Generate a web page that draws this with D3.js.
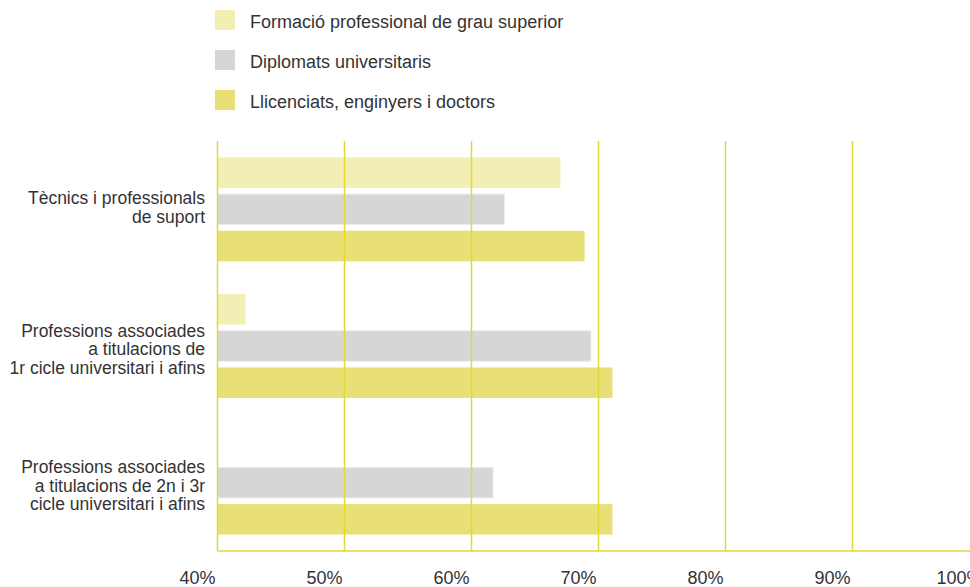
<!DOCTYPE html>
<html>
<head>
<meta charset="utf-8">
<script src="https://cdn.jsdelivr.net/npm/d3@7"></script>
<style>
  body { margin: 0; background: #fff; }
  text { font-family: "Liberation Sans", Arial, sans-serif; fill: #333; }
</style>
</head>
<body>
<div id="chart"></div>
<script>
// Categories (occupation groups), each label split into lines
var categories = ["tecnics", "prof1", "prof2"];
var categoryLines = [
	["Tècnics i professionals", "de suport"],
	["Professions associades", "a titulacions de", "1r cicle universitari i afins"],
	["Professions associades", "a titulacions de 2n i 3r", "cicle universitari i afins"]
];

// Series
var seriesNames = ["Formació professional de grau superior", "Diplomats universitaris", "Llicenciats, enginyers i doctors"];
var seriesColors = ["#f3eeb4", "#d6d6d6", "#e8df76"];

// Values (% per category), null = no bar
var fpValues = [67.0, 42.2, null];
var diplomatsValues = [62.6, 69.4, 61.7];
var llicenciatsValues = [68.9, 71.1, 71.1];

var tickValues = [40, 50, 60, 70, 80, 90, 100];

var width = 970, height = 587;
var margin = {top: 141, left: 217.5, bottom: 551};

var svg = d3.select("#chart").append("svg")
	.attr("width", width)
	.attr("height", height);

// x scale: 40% at the left axis, 100% just outside the window
var x = d3.scaleLinear()
	.domain([40, 100])
	.range([margin.left, 979.5]);

var y = d3.scaleBand()
	.domain(categories)
	.range([margin.top, margin.bottom])
	.paddingInner(0.24)
	.paddingOuter(0.12);

var ySub = d3.scaleBand()
	.domain(d3.range(seriesNames.length))
	.range([0, y.bandwidth()])
	.paddingInner(0.17);

var allValues = [fpValues, diplomatsValues, llicenciatsValues];

// Bars
var groups = svg.append("g")
	.selectAll("g")
	.data(categories)
	.enter().append("g")
	.attr("transform", d => "translate(0," + y(d) + ")");

groups.selectAll("rect")
	.data((d, i) => allValues.map((vals, s) => ({s: s, v: vals[i]})).filter(e => e.v != null))
	.enter().append("rect")
	.attr("x", x(40))
	.attr("y", d => ySub(d.s))
	.attr("width", d => x(d.v) - x(40))
	.attr("height", ySub.bandwidth())
	.attr("fill", d => seriesColors[d.s])
	.attr("stroke", d => d.s == 1 ? "#ececec" : "none")
	.attr("stroke-width", 1);

// Gridlines (drawn above the bars, like the reference)
svg.append("g")
	.selectAll("line")
	.data(tickValues)
	.enter().append("line")
	.attr("x1", d => x(d))
	.attr("x2", d => x(d))
	.attr("y1", margin.top)
	.attr("y2", margin.bottom)
	.attr("stroke", "#e2d936")
	.attr("stroke-width", 1.5);

// Bottom axis line
svg.append("line")
	.attr("x1", x(40))
	.attr("x2", width)
	.attr("y1", margin.bottom)
	.attr("y2", margin.bottom)
	.attr("stroke", "#e2d936")
	.attr("stroke-width", 1.5);

// Tick labels, shifted left of their gridlines
svg.append("g")
	.selectAll("text")
	.data(tickValues)
	.enter().append("text")
	.attr("x", d => x(d) - 20)
	.attr("y", 584)
	.attr("text-anchor", "middle")
	.style("font-size", "18px")
	.text(d => d + "%");

// Category labels
var lineH = 18.5;
svg.append("g")
	.selectAll("text")
	.data(categories)
	.enter().append("text")
	.attr("text-anchor", "end")
	.style("font-size", "17.5px")
	.each(function(d, i) {
		var lines = categoryLines[i];
		var cy = y(d) + y.bandwidth() / 2;
		// 3-line labels sit slightly lower than 2-line ones in the original
		var y0 = cy - (lines.length - 1) * lineH / 2 + 6 + (lines.length == 3 ? 3 : -2);
		d3.select(this).selectAll("tspan")
			.data(lines)
			.enter().append("tspan")
			.attr("x", 205)
			.attr("y", (t, j) => y0 + j * lineH)
			.text(t => t);
	});

// Legend
var legend = svg.append("g")
	.selectAll("g")
	.data(seriesNames)
	.enter().append("g")
	.attr("transform", (d, i) => "translate(215," + (10 + i * 40) + ")");

legend.append("rect")
	.attr("width", 20)
	.attr("height", 20)
	.attr("fill", (d, i) => seriesColors[i]);

legend.append("text")
	.attr("x", 35)
	.attr("y", 17.5)
	.style("font-size", "18px")
	.text(d => d);
</script>
</body>
</html>
